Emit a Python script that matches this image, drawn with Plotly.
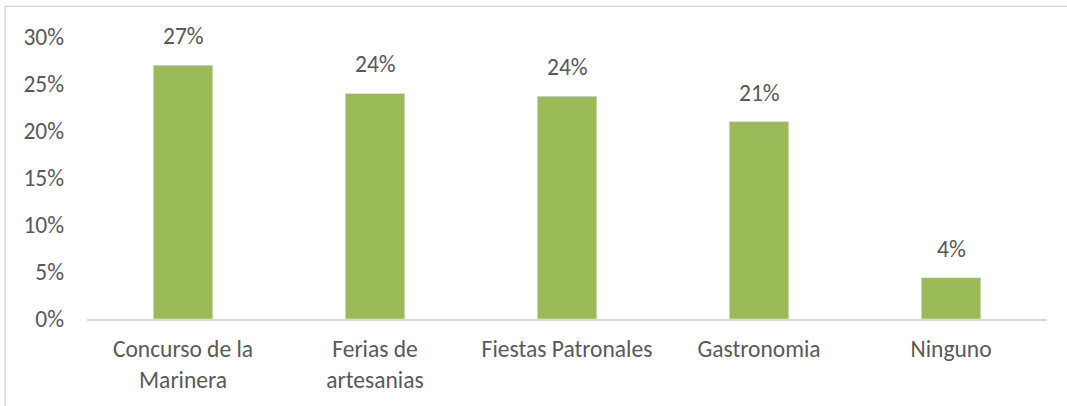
import plotly.graph_objects as go

categories = [
    "Concurso de la<br>Marinera",
    "Ferias de<br>artesanias",
    "Fiestas Patronales",
    "Gastronomia",
    "Ninguno",
]
values = [27.0, 24.0, 23.7, 21.0, 4.4]
y_ticks = [0, 5, 10, 15, 20, 25, 30]

BAR_COLOR = "#9BBB59"
TEXT_COLOR = "#595959"
LINE_COLOR = "#D9D9D9"
FONT = "Calibri, Carlito, Open Sans, sans-serif"
FONT_SIZE = 23.5

fig = go.Figure(
    go.Bar(
        x=categories,
        y=values,
        marker_color=BAR_COLOR,
        width=0.31,
        hovertemplate="%{x}<br>%{y:.0f}%<extra></extra>",
    )
)

# data labels sit a bit higher than plotly's "outside" text would
for cat, val in zip(categories, values):
    fig.add_annotation(
        x=cat, y=val,
        text=f"{val:.0f}%",
        showarrow=False,
        yanchor="bottom",
        yshift=13,
        font=dict(size=FONT_SIZE, color=TEXT_COLOR, family=FONT),
    )

# chart border (only top and left edges are visible in the crop)
fig.add_shape(type="line", xref="paper", yref="paper",
              x0=-0.0854, x1=1.1, y0=1.1088, y1=1.1088,
              line=dict(color=LINE_COLOR, width=1.5))
fig.add_shape(type="line", xref="paper", yref="paper",
              x0=-0.0854, x1=-0.0854, y0=1.1088, y1=-0.5,
              line=dict(color=LINE_COLOR, width=1.5))

fig.update_layout(
    width=1067,
    height=406,
    margin=dict(l=87, r=20, t=37, b=84),
    plot_bgcolor="white",
    paper_bgcolor="white",
    showlegend=False,
    font=dict(family=FONT, color=TEXT_COLOR),
    xaxis=dict(
        showline=True,
        linecolor=LINE_COLOR,
        linewidth=2,
        showgrid=False,
        tickfont=dict(size=FONT_SIZE, color=TEXT_COLOR),
        ticklabelstandoff=8,
    ),
    yaxis=dict(
        range=[0, 30],
        tickvals=y_ticks,
        ticktext=[f"{t}%" for t in y_ticks],
        showgrid=False,
        zeroline=False,
        showline=False,
        tickfont=dict(size=FONT_SIZE, color=TEXT_COLOR),
        ticklabelstandoff=22,
    ),
)

# drop the default page margin so the figure sits at the window origin
fig.write_html(
    "out.html",
    config={"displayModeBar": False},
    post_script="document.body.style.margin = '0';",
)
